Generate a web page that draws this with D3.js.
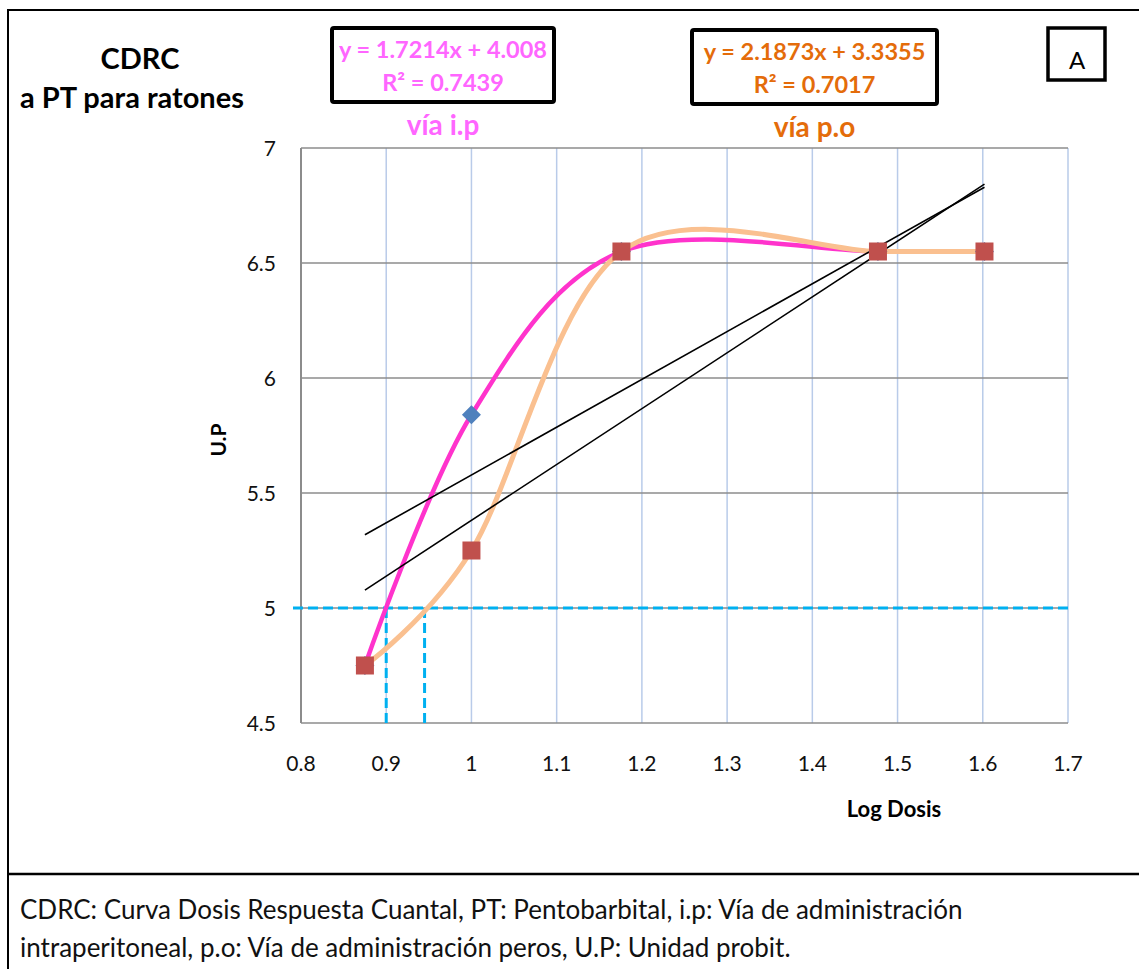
<!DOCTYPE html>
<html>
<head>
<meta charset="utf-8">
<script src="https://cdn.jsdelivr.net/npm/d3@7"></script>
<style>
  body { margin: 0; background: #fff; }
  svg { display: block; font-family: Lato, "Open Sans", sans-serif; }
</style>
</head>
<body>
<div id="chart"></div>
<script>
// data
const logDosis = [0.875, 1.0, 1.176, 1.477, 1.602];
const upIP = [4.75, 5.84, 6.55, 6.55, 6.55];   // vía i.p
const upPO = [4.75, 5.25, 6.55, 6.55, 6.55];   // vía p.o
const xTicks = [0.8, 0.9, 1, 1.1, 1.2, 1.3, 1.4, 1.5, 1.6, 1.7];
const yTicks = [4.5, 5, 5.5, 6, 6.5, 7];
const probit50 = 5;
const dl50 = [0.9, 0.945];   // where each curve crosses probit 5
const eqIP = ["y = 1.7214x + 4.008", "R² = 0.7439"];
const eqPO = ["y = 2.1873x + 3.3355", "R² = 0.7017"];
const caption = [
  "CDRC: Curva Dosis Respuesta Cuantal, PT: Pentobarbital, i.p: Vía de administración",
  "intraperitoneal, p.o: Vía de administración peros, U.P: Unidad probit."
];

const W = 1139, H = 969;
const svg = d3.select("#chart").append("svg")
  .attr("width", W).attr("height", H);

// outer frame
svg.append("path").attr("d", `M8,${H} V10 H${W}`)
  .attr("fill", "none").attr("stroke", "#000").attr("stroke-width", 2);
svg.append("line").attr("x1", 8).attr("x2", W).attr("y1", 874).attr("y2", 874)
  .attr("stroke", "#000").attr("stroke-width", 2.5);

const x = d3.scaleLinear().domain([0.8, 1.7]).range([301, 1068]);
const y = d3.scaleLinear().domain([4.5, 7]).range([723, 148]);

// gridlines
svg.append("g").selectAll("line").data(xTicks.slice(1)).join("line")
  .attr("x1", d => x(d)).attr("x2", d => x(d))
  .attr("y1", y(7)).attr("y2", y(4.5))
  .attr("stroke", "#b9cbe9").attr("stroke-width", 1.5);
svg.append("g").selectAll("line").data(yTicks).join("line")
  .attr("x1", x(0.8)).attr("x2", x(1.7))
  .attr("y1", d => y(d)).attr("y2", d => y(d))
  .attr("stroke", "#8c8c8c").attr("stroke-width", 1.5);
svg.append("line").attr("x1", x(0.8)).attr("x2", x(0.8))
  .attr("y1", y(7)).attr("y2", y(4.5))
  .attr("stroke", "#8c8c8c").attr("stroke-width", 2);

// tick labels
svg.append("g").selectAll("text").data(yTicks).join("text")
  .attr("x", 276).attr("y", d => y(d) + 8)
  .attr("text-anchor", "end").attr("font-size", 21).attr("fill", "#111")
  .text(d => d);
svg.append("g").selectAll("text").data(xTicks).join("text")
  .attr("x", d => x(d)).attr("y", 771)
  .attr("text-anchor", "middle").attr("font-size", 21).attr("fill", "#111")
  .text(d => d);

// axis titles
svg.append("text").attr("transform", "translate(226,440) rotate(-90)")
  .attr("text-anchor", "middle").attr("font-size", 21).attr("font-weight", "bold")
  .text("U.P");
svg.append("text").attr("x", 894).attr("y", 817)
  .attr("text-anchor", "middle").attr("font-size", 22).attr("font-weight", "bold")
  .text("Log Dosis");

// dashed probit 5 guides
const dash = svg.append("g").attr("stroke", "#00b0f0").attr("stroke-width", 3)
  .attr("stroke-dasharray", "10,5").attr("fill", "none");
dash.append("line").attr("x1", x(0.8) - 8).attr("x2", x(1.7))
  .attr("y1", y(probit50)).attr("y2", y(probit50));
dash.selectAll(".v").data(dl50).join("line").attr("class", "v")
  .attr("x1", d => x(d)).attr("x2", d => x(d))
  .attr("y1", y(probit50)).attr("y2", y(4.5) + 5);

// smoothed series
const pts = vals => logDosis.map((d, i) => [d, vals[i]]);
const smooth = d3.line().x(d => x(d[0])).y(d => y(d[1]))
  .curve(d3.curveCardinal.tension(0));
svg.append("path").attr("d", smooth(pts(upIP)))
  .attr("fill", "none").attr("stroke", "#ff33cc").attr("stroke-width", 4.5);
svg.append("path").attr("d", smooth(pts(upPO)))
  .attr("fill", "none").attr("stroke", "#fac090").attr("stroke-width", 5);

// linear trendlines (least squares)
function fit(vals) {
  const mx = d3.mean(logDosis), my = d3.mean(vals);
  const sxy = d3.sum(logDosis, (d, i) => (d - mx) * (vals[i] - my));
  const sxx = d3.sum(logDosis, d => (d - mx) ** 2);
  const b = sxy / sxx;
  return { b, a: my - b * mx };
}
[upIP, upPO].forEach(vals => {
  const f = fit(vals);
  const ends = d3.extent(logDosis);
  svg.append("line")
    .attr("x1", x(ends[0])).attr("y1", y(f.a + f.b * ends[0]))
    .attr("x2", x(ends[1])).attr("y2", y(f.a + f.b * ends[1]))
    .attr("stroke", "#000").attr("stroke-width", 1.6);
});

// markers
svg.append("g").selectAll("path").data(pts(upIP)).join("path")
  .attr("transform", d => `translate(${x(d[0])},${y(d[1])})`)
  .attr("d", d3.symbol(d3.symbolDiamond2, 230))
  .attr("fill", "#4f81bd");
svg.append("g").selectAll("rect").data(pts(upPO)).join("rect")
  .attr("x", d => x(d[0]) - 9).attr("y", d => y(d[1]) - 9)
  .attr("width", 18).attr("height", 18)
  .attr("fill", "#c0504d");

// title
svg.append("text").attr("x", 140).attr("y", 69).attr("text-anchor", "middle")
  .attr("font-size", 29).attr("font-weight", "bold").text("CDRC");
svg.append("text").attr("x", 132).attr("y", 108).attr("text-anchor", "middle")
  .attr("font-size", 29).attr("font-weight", "bold").text("a PT para ratones");

// equation boxes
function eqBox(bx, by, bw, bh, lines, label, color) {
  svg.append("rect").attr("x", bx).attr("y", by).attr("width", bw).attr("height", bh)
    .attr("fill", "#fff").attr("stroke", "#000").attr("stroke-width", 4).attr("rx", 2);
  const cx = bx + bw / 2;
  lines.forEach((t, i) => svg.append("text").attr("x", cx).attr("y", by + 30 + i * 33)
    .attr("text-anchor", "middle").attr("font-size", 23.5).attr("font-weight", "bold")
    .attr("fill", color).text(t));
  svg.append("text").attr("x", cx).attr("y", by + bh + 33)
    .attr("text-anchor", "middle").attr("font-size", 28).attr("font-weight", "bold")
    .attr("fill", color).text(label);
}
eqBox(332, 28, 222, 74, eqIP, "vía i.p", "#ff66ff");
eqBox(692, 30, 245, 74, eqPO, "vía p.o", "#e46c0a");

// panel letter
svg.append("rect").attr("x", 1048).attr("y", 28).attr("width", 57).attr("height", 52)
  .attr("fill", "#fff").attr("stroke", "#000").attr("stroke-width", 3.5);
svg.append("text").attr("x", 1077).attr("y", 69).attr("text-anchor", "middle")
  .attr("font-size", 24).text("A");

// caption
svg.append("g").selectAll("text").data(caption).join("text")
  .attr("x", 20).attr("y", (d, i) => 919 + i * 38)
  .attr("font-size", 26).attr("fill", "#111").text(d => d);
</script>
</body>
</html>
